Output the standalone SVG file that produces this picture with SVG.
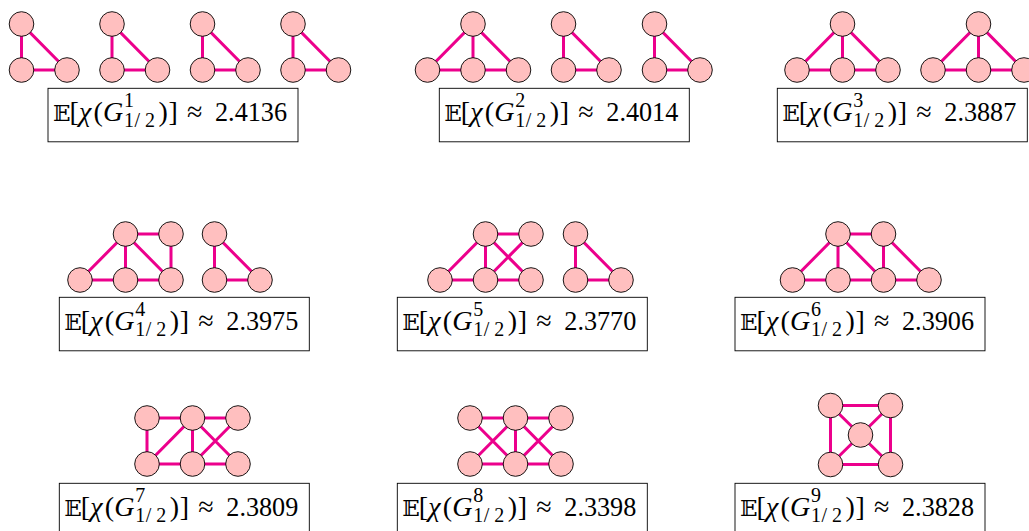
<svg xmlns="http://www.w3.org/2000/svg" width="1029" height="531" viewBox="0 0 1029 531">
<style>
.e{fill:none;stroke:#EC008C;stroke-width:3;stroke-linecap:butt;stroke-linejoin:miter}
.n{fill:#FFBFBF;stroke:#000;stroke-width:0.9}
.box{fill:#fff;stroke:#000;stroke-width:0.9}
.t{font-family:"Liberation Serif","DejaVu Serif",serif;font-size:28px;fill:#000}
.bb{font-family:"DejaVu Serif","DejaVu Sans","Noto Sans",serif;font-size:23px}
.i{font-style:italic}
.s{font-size:20px}
</style>
<defs>
<circle id="nd" r="12.3" class="n"/>
</defs>
<rect width="1029" height="531" fill="#fff"/>
<g id="connectors">
<path class="e" d="M21.5,24V70H67ZM112,24V70H157.5ZM202.5,24V70H248ZM293,24V70H338.5Z"/>
<path class="e" d="M427.5,70H518.5L473,24ZM473,24V70M563.5,24V70H609ZM654.5,24V70H700Z"/>
<path class="e" d="M797,70H888L842.5,24ZM842.5,24V70M933,70H1024L978.5,24ZM978.5,24V70"/>
<path class="e" d="M80,280H171V234H125.5ZM125.5,234V280M125.5,234L171,280M214.5,234V280H260Z"/>
<path class="e" d="M440,280H531M440,280L485.5,234H531L485.5,280M485.5,234V280M485.5,234L531,280M575.5,234V280H621Z"/>
<path class="e" d="M792.5,280H929L883.5,234H838ZM838,234V280M838,234L883.5,280M883.5,234V280"/>
<path class="e" d="M147,418H238M147,418V464H238M147,464L192.5,418V464M192.5,418L238,464M238,418L192.5,464"/>
<path class="e" d="M470,418H561M470,464H561M470,418L515.5,464L561,418M470,464L515.5,418L561,464M515.5,418V464"/>
<path class="e" d="M830.5,405.5H890.5V464.5H830.5ZM830.5,405.5L890.5,464.5M890.5,405.5L830.5,464.5"/>
</g>
<g id="p1-nodes">
<g id="n1a"><use href="#nd" x="21.5" y="24"/><use href="#nd" x="21.5" y="70"/><use href="#nd" x="67" y="70"/></g>
<g id="n1b"><use href="#nd" x="112" y="24"/><use href="#nd" x="112" y="70"/><use href="#nd" x="157.5" y="70"/></g>
<g id="n1c"><use href="#nd" x="202.5" y="24"/><use href="#nd" x="202.5" y="70"/><use href="#nd" x="248" y="70"/></g>
<g id="n1d"><use href="#nd" x="293" y="24"/><use href="#nd" x="293" y="70"/><use href="#nd" x="338.5" y="70"/></g>
</g>
<g id="p2-nodes">
<g id="n2a"><use href="#nd" x="473" y="24"/><use href="#nd" x="427.5" y="70"/><use href="#nd" x="473" y="70"/><use href="#nd" x="518.5" y="70"/></g>
<g id="n2b"><use href="#nd" x="563.5" y="24"/><use href="#nd" x="563.5" y="70"/><use href="#nd" x="609" y="70"/></g>
<g id="n2c"><use href="#nd" x="654.5" y="24"/><use href="#nd" x="654.5" y="70"/><use href="#nd" x="700" y="70"/></g>
</g>
<g id="p3-nodes">
<g id="n3a"><use href="#nd" x="842.5" y="24"/><use href="#nd" x="797" y="70"/><use href="#nd" x="842.5" y="70"/><use href="#nd" x="888" y="70"/></g>
<g id="n3b"><use href="#nd" x="978.5" y="24"/><use href="#nd" x="933" y="70"/><use href="#nd" x="978.5" y="70"/><use href="#nd" x="1024" y="70"/></g>
</g>
<g id="p4-nodes">
<g id="n4a"><use href="#nd" x="125.5" y="234"/><use href="#nd" x="171" y="234"/><use href="#nd" x="80" y="280"/><use href="#nd" x="125.5" y="280"/><use href="#nd" x="171" y="280"/></g>
<g id="n4b"><use href="#nd" x="214.5" y="234"/><use href="#nd" x="214.5" y="280"/><use href="#nd" x="260" y="280"/></g>
</g>
<g id="p5-nodes">
<g id="n5a"><use href="#nd" x="485.5" y="234"/><use href="#nd" x="531" y="234"/><use href="#nd" x="440" y="280"/><use href="#nd" x="485.5" y="280"/><use href="#nd" x="531" y="280"/></g>
<g id="n5b"><use href="#nd" x="575.5" y="234"/><use href="#nd" x="575.5" y="280"/><use href="#nd" x="621" y="280"/></g>
</g>
<g id="p6-nodes">
<use href="#nd" x="838" y="234"/><use href="#nd" x="883.5" y="234"/><use href="#nd" x="792.5" y="280"/><use href="#nd" x="838" y="280"/><use href="#nd" x="883.5" y="280"/><use href="#nd" x="929" y="280"/>
</g>
<g id="p7-nodes">
<use href="#nd" x="147" y="418"/><use href="#nd" x="192.5" y="418"/><use href="#nd" x="238" y="418"/><use href="#nd" x="147" y="464"/><use href="#nd" x="192.5" y="464"/><use href="#nd" x="238" y="464"/>
</g>
<g id="p8-nodes">
<use href="#nd" x="470" y="418"/><use href="#nd" x="515.5" y="418"/><use href="#nd" x="561" y="418"/><use href="#nd" x="470" y="464"/><use href="#nd" x="515.5" y="464"/><use href="#nd" x="561" y="464"/>
</g>
<g id="p9-nodes">
<use href="#nd" x="830.5" y="405.5"/><use href="#nd" x="890.5" y="405.5"/><use href="#nd" x="860.5" y="435"/><use href="#nd" x="830.5" y="464.5"/><use href="#nd" x="890.5" y="464.5"/>
</g>
<g id="label1" transform="translate(48,88.3)"><rect class="box" width="250" height="53.5"/>
<text class="t"><tspan class="bb" x="5" y="33">𝔼</tspan><tspan x="21.5" y="33">[</tspan><tspan class="i" x="31" y="33">χ</tspan><tspan x="45.5" y="33">(</tspan><tspan class="i" x="55" y="33">G</tspan><tspan class="s" x="76" y="19">1</tspan><tspan class="s" x="76" y="39">1</tspan><tspan class="s" x="86.5" y="39">/</tspan><tspan class="s" x="97" y="39">2</tspan><tspan x="110.5" y="33">)</tspan><tspan x="120.5" y="33">]</tspan><tspan x="139" y="33">≈</tspan><tspan x="167" y="33" textLength="72" lengthAdjust="spacingAndGlyphs">2.4136</tspan></text></g>
<g id="label2" transform="translate(439.3,88.3)"><rect class="box" width="250" height="53.5"/>
<text class="t"><tspan class="bb" x="5" y="33">𝔼</tspan><tspan x="21.5" y="33">[</tspan><tspan class="i" x="31" y="33">χ</tspan><tspan x="45.5" y="33">(</tspan><tspan class="i" x="55" y="33">G</tspan><tspan class="s" x="76" y="19">2</tspan><tspan class="s" x="76" y="39">1</tspan><tspan class="s" x="86.5" y="39">/</tspan><tspan class="s" x="97" y="39">2</tspan><tspan x="110.5" y="33">)</tspan><tspan x="120.5" y="33">]</tspan><tspan x="139" y="33">≈</tspan><tspan x="167" y="33" textLength="72" lengthAdjust="spacingAndGlyphs">2.4014</tspan></text></g>
<g id="label3" transform="translate(777.3,88.3)"><rect class="box" width="250" height="53.5"/>
<text class="t"><tspan class="bb" x="5" y="33">𝔼</tspan><tspan x="21.5" y="33">[</tspan><tspan class="i" x="31" y="33">χ</tspan><tspan x="45.5" y="33">(</tspan><tspan class="i" x="55" y="33">G</tspan><tspan class="s" x="76" y="19">3</tspan><tspan class="s" x="76" y="39">1</tspan><tspan class="s" x="86.5" y="39">/</tspan><tspan class="s" x="97" y="39">2</tspan><tspan x="110.5" y="33">)</tspan><tspan x="120.5" y="33">]</tspan><tspan x="139" y="33">≈</tspan><tspan x="167" y="33" textLength="72" lengthAdjust="spacingAndGlyphs">2.3887</tspan></text></g>
<g id="label4" transform="translate(59.3,297.3)"><rect class="box" width="250" height="53.5"/>
<text class="t"><tspan class="bb" x="5" y="33">𝔼</tspan><tspan x="21.5" y="33">[</tspan><tspan class="i" x="31" y="33">χ</tspan><tspan x="45.5" y="33">(</tspan><tspan class="i" x="55" y="33">G</tspan><tspan class="s" x="76" y="19">4</tspan><tspan class="s" x="76" y="39">1</tspan><tspan class="s" x="86.5" y="39">/</tspan><tspan class="s" x="97" y="39">2</tspan><tspan x="110.5" y="33">)</tspan><tspan x="120.5" y="33">]</tspan><tspan x="139" y="33">≈</tspan><tspan x="167" y="33" textLength="72" lengthAdjust="spacingAndGlyphs">2.3975</tspan></text></g>
<g id="label5" transform="translate(397.3,297.3)"><rect class="box" width="250" height="53.5"/>
<text class="t"><tspan class="bb" x="5" y="33">𝔼</tspan><tspan x="21.5" y="33">[</tspan><tspan class="i" x="31" y="33">χ</tspan><tspan x="45.5" y="33">(</tspan><tspan class="i" x="55" y="33">G</tspan><tspan class="s" x="76" y="19">5</tspan><tspan class="s" x="76" y="39">1</tspan><tspan class="s" x="86.5" y="39">/</tspan><tspan class="s" x="97" y="39">2</tspan><tspan x="110.5" y="33">)</tspan><tspan x="120.5" y="33">]</tspan><tspan x="139" y="33">≈</tspan><tspan x="167" y="33" textLength="72" lengthAdjust="spacingAndGlyphs">2.3770</tspan></text></g>
<g id="label6" transform="translate(735,297.3)"><rect class="box" width="250" height="53.5"/>
<text class="t"><tspan class="bb" x="5" y="33">𝔼</tspan><tspan x="21.5" y="33">[</tspan><tspan class="i" x="31" y="33">χ</tspan><tspan x="45.5" y="33">(</tspan><tspan class="i" x="55" y="33">G</tspan><tspan class="s" x="76" y="19">6</tspan><tspan class="s" x="76" y="39">1</tspan><tspan class="s" x="86.5" y="39">/</tspan><tspan class="s" x="97" y="39">2</tspan><tspan x="110.5" y="33">)</tspan><tspan x="120.5" y="33">]</tspan><tspan x="139" y="33">≈</tspan><tspan x="167" y="33" textLength="72" lengthAdjust="spacingAndGlyphs">2.3906</tspan></text></g>
<g id="label7" transform="translate(59.3,483.3)"><rect class="box" width="250" height="53.5"/>
<text class="t"><tspan class="bb" x="5" y="33">𝔼</tspan><tspan x="21.5" y="33">[</tspan><tspan class="i" x="31" y="33">χ</tspan><tspan x="45.5" y="33">(</tspan><tspan class="i" x="55" y="33">G</tspan><tspan class="s" x="76" y="19">7</tspan><tspan class="s" x="76" y="39">1</tspan><tspan class="s" x="86.5" y="39">/</tspan><tspan class="s" x="97" y="39">2</tspan><tspan x="110.5" y="33">)</tspan><tspan x="120.5" y="33">]</tspan><tspan x="139" y="33">≈</tspan><tspan x="167" y="33" textLength="72" lengthAdjust="spacingAndGlyphs">2.3809</tspan></text></g>
<g id="label8" transform="translate(397.3,483.3)"><rect class="box" width="250" height="53.5"/>
<text class="t"><tspan class="bb" x="5" y="33">𝔼</tspan><tspan x="21.5" y="33">[</tspan><tspan class="i" x="31" y="33">χ</tspan><tspan x="45.5" y="33">(</tspan><tspan class="i" x="55" y="33">G</tspan><tspan class="s" x="76" y="19">8</tspan><tspan class="s" x="76" y="39">1</tspan><tspan class="s" x="86.5" y="39">/</tspan><tspan class="s" x="97" y="39">2</tspan><tspan x="110.5" y="33">)</tspan><tspan x="120.5" y="33">]</tspan><tspan x="139" y="33">≈</tspan><tspan x="167" y="33" textLength="72" lengthAdjust="spacingAndGlyphs">2.3398</tspan></text></g>
<g id="label9" transform="translate(735,483.3)"><rect class="box" width="250" height="53.5"/>
<text class="t"><tspan class="bb" x="5" y="33">𝔼</tspan><tspan x="21.5" y="33">[</tspan><tspan class="i" x="31" y="33">χ</tspan><tspan x="45.5" y="33">(</tspan><tspan class="i" x="55" y="33">G</tspan><tspan class="s" x="76" y="19">9</tspan><tspan class="s" x="76" y="39">1</tspan><tspan class="s" x="86.5" y="39">/</tspan><tspan class="s" x="97" y="39">2</tspan><tspan x="110.5" y="33">)</tspan><tspan x="120.5" y="33">]</tspan><tspan x="139" y="33">≈</tspan><tspan x="167" y="33" textLength="72" lengthAdjust="spacingAndGlyphs">2.3828</tspan></text></g>
</svg>
